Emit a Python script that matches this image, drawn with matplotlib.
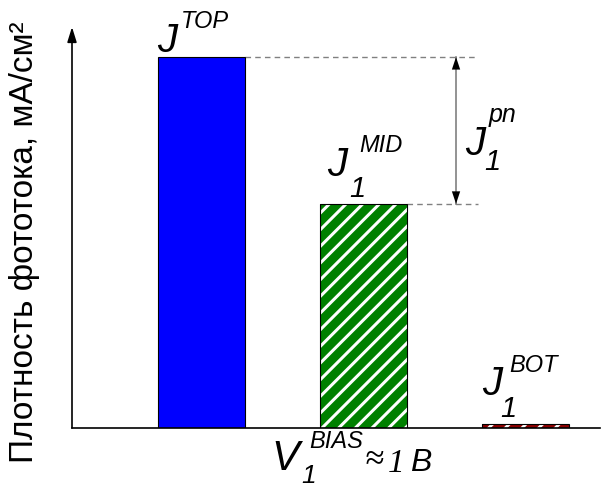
import matplotlib
matplotlib.use('Agg')
import matplotlib.pyplot as plt

# bar data (arbitrary photocurrent density units)
positions = [0, 1, 2]
heights = [92.5, 55.9, 1.0]
colors = ['#0000ff', '#008000', '#8b0000']
hatches = [None, '//', '//']

W, H = 613, 489
plt.rcParams['hatch.linewidth'] = 2.2

fig = plt.figure(figsize=(W / 100, H / 100), dpi=100)
ax = fig.add_axes([72 / W, (H - 429) / H, 528 / W, 401 / H])
ax.set_xlim(-0.802, 2.462)
ax.set_ylim(0, 100)
ax.axis('off')

bw = 0.538
for x, h, c, ht in zip(positions, heights, colors, hatches):
    if ht is None:
        ax.bar(x, h, bw, color=c, edgecolor='black', linewidth=0.8, zorder=2)
    else:
        ax.bar(x, h, bw, color=c, edgecolor='white', linewidth=0, hatch=ht, zorder=2)
        ax.bar(x, h, bw, fill=False, edgecolor='black', linewidth=0.8, zorder=3)

# axes: baseline and arrowed vertical axis
ax.plot([0, 1], [0, 0], color='black', lw=1.2, transform=ax.transAxes, clip_on=False, zorder=4)
ax.annotate('', xy=(0, 1), xytext=(0, 0), xycoords='axes fraction',
            arrowprops=dict(arrowstyle='-|>,head_length=0.9,head_width=0.28',
                            color='black', lw=1.2, shrinkA=0, shrinkB=0))

# dashed guides
xend = 1.708
ax.plot([positions[0] + bw / 2, xend], [heights[0]] * 2, color='gray', lw=1, ls=(0, (4, 3)), zorder=1)
ax.plot([positions[1] + bw / 2, xend], [heights[1]] * 2, color='gray', lw=1, ls=(0, (4, 3)), zorder=1)

# double arrow between levels
xa = 1.572
ax.plot([xa, xa], [heights[1], heights[0]], color='gray', lw=1.2, zorder=1)
for y0, y1 in [(heights[0] - 6, heights[0]), (heights[1] + 6, heights[1])]:
    ax.annotate('', xy=(xa, y1), xytext=(xa, y0),
                arrowprops=dict(arrowstyle='-|>,head_length=0.9,head_width=0.3',
                                color='black', lw=0, shrinkA=0, shrinkB=0))


def txt(x, y, s, size, family='Liberation Sans', style='italic', **kw):
    fig.text(x / W, 1 - y / H, s, fontsize=size, family=family, style=style, va='baseline', **kw)


# J^TOP
txt(157, 52, 'J', 29)
txt(181, 28, 'TOP', 17)
# J_1^MID
txt(327, 176, 'J', 29)
txt(359, 152, 'MID', 17)
txt(349, 197, '1', 21)
# J_1^BOT
txt(482, 395, 'J', 29)
txt(509, 372, 'BOT', 17)
txt(500, 417, '1', 21)
# J_1^pn
txt(465, 155, 'J', 29)
txt(489, 122, 'pn', 18)
txt(484, 170, '1', 21)
# V_1^BIAS ≈ 1 B
txt(271, 470, 'V', 30)
txt(309, 448, 'BIAS', 17)
txt(301, 483, '1', 19)
txt(364, 468, '≈', 25, family='Liberation Serif')
txt(388, 472, '1', 24, family='Liberation Serif')
txt(410, 471, 'B', 23)

fig.text(25 / W, 1 - 242 / H, 'Плотность фототока, мА/см²', rotation=90,
         fontsize=24, family='Liberation Sans', ha='center', va='center')

fig.savefig('out.png', dpi=100)
